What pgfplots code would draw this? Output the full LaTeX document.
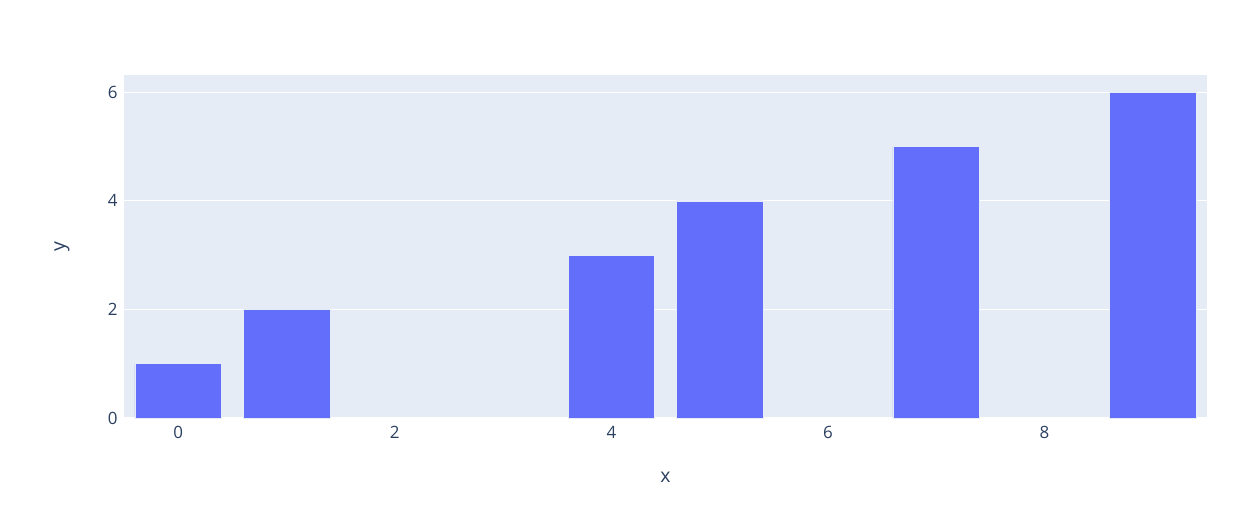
\documentclass[border=0pt]{standalone}
\usepackage{pgfplots}
\pgfplotsset{compat=1.18}
\usepackage{fontspec}
\setmainfont{Open Sans}
\definecolor{bgc}{HTML}{E5ECF6}
\definecolor{barc}{HTML}{636EFA}
\definecolor{txt}{HTML}{2A3F5F}
\begin{document}
\begin{tikzpicture}
\begin{axis}[
  scale only axis,
  width=1083bp, height=343bp,
  xmin=-0.5, xmax=9.5,
  ymin=0, ymax=6.316,
  axis background/.style={fill=bgc},
  axis line style={draw=none},
  xtick={0,2,4,6,8},
  ytick={0,2,4,6},
  ymajorgrids,
  grid style={white, line width=1.2bp},
  major tick length=0pt,
  tick label style={font=\fontsize{17}{20}\selectfont, text=txt},
  /pgf/number format/assume math mode=true,
  xticklabel style={anchor=center, yshift=-14bp},
  yticklabel style={anchor=east, xshift=-3bp},
  xlabel={x}, ylabel={y},
  label style={font=\fontsize{19.5}{22}\selectfont, text=txt},
  xlabel style={at={(axis description cs:0.5,-0.172)}, anchor=center},
  ylabel style={at={(axis description cs:-0.0572,0.5)}, anchor=center},
  clip=false,
]
\addplot[ybar, bar width=0.8, fill=barc, draw=bgc, line width=0.5bp, bar shift=0pt]
  coordinates {(0,1) (1,2) (4,3) (5,4) (7,5) (9,6)};
\end{axis}
\path ([xshift=-124bp,yshift=-89bp]current axis.south west) rectangle ([xshift=46bp,yshift=75bp]current axis.north east);
\end{tikzpicture}
\end{document}
